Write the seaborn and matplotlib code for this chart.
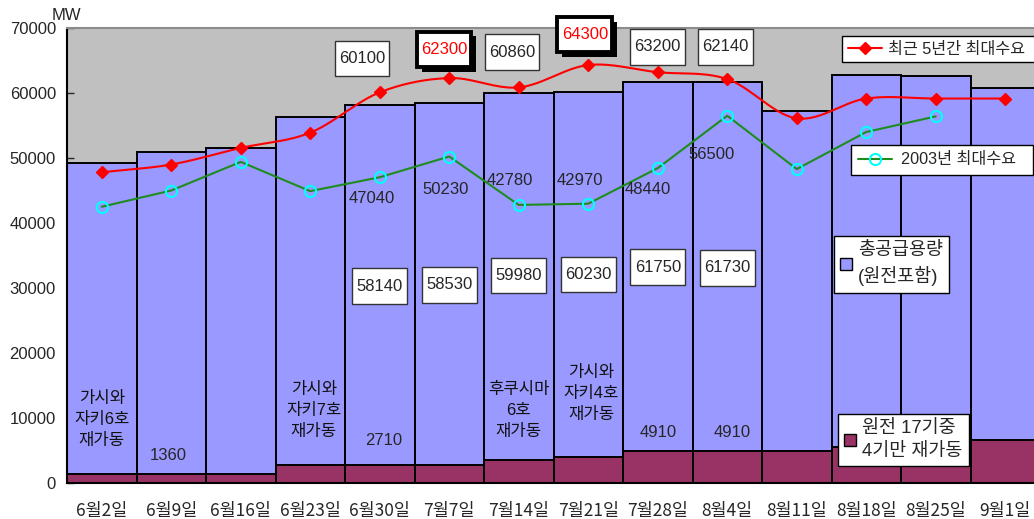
import numpy as np
import pandas as pd
import matplotlib
matplotlib.use("Agg")
import matplotlib.pyplot as plt
import matplotlib.patheffects as pe
from matplotlib.path import Path
from matplotlib.lines import Line2D
from matplotlib.patches import Patch
import seaborn as sns

# ---------------- data ----------------
categories = ["6월2일", "6월9일", "6월16일", "6월23일", "6월30일", "7월7일", "7월14일",
              "7월21일", "7월28일", "8월4일", "8월11일", "8월18일", "8월25일", "9월1일"]
supply = [49230, 51000, 51550, 56300, 58140, 58530, 59980, 60230, 61750, 61730,
          57230, 62770, 62600, 60770]
nuclear = [1360, 1360, 1360, 2710, 2710, 2710, 3550, 4040, 4910, 4910, 4910, 5490, 5490, 6570]
max5yr = [47800, 49000, 51550, 53900, 60100, 62300, 60860, 64300, 63200, 62140,
          56100, 59150, 59150, 59150]
demand2003 = [42500, 45000, 49400, 44900, 47040, 50230, 42780, 42970, 48440, 56500,
              48300, 54000, 56400, np.nan]

max5_labels = {4: "60100", 5: "62300", 6: "60860", 7: "64300", 8: "63200", 9: "62140"}
max5_highlight = [5, 7]
d2003_labels = {4: "47040", 5: "50230", 6: "42780", 7: "42970", 8: "48440", 9: "56500"}
supply_labels = {4: "58140", 5: "58530", 6: "59980", 7: "60230", 8: "61750", 9: "61730"}
nuclear_labels = {1: "1360", 4: "2710", 8: "4910", 9: "4910"}
restart_notes = {0: "가시와\n자키6호\n재가동", 3: "가시와\n자키7호\n재가동",
                 6: "후쿠시마\n6호\n재가동", 7: "가시와\n자키4호\n재가동"}
yticks = [0, 10000, 20000, 30000, 40000, 50000, 60000, 70000]

# ---------------- style ----------------
sns.set_style("white")
plt.rcParams["font.family"] = ["Liberation Sans", "Noto Sans CJK KR", "DejaVu Sans"]

fig = plt.figure(figsize=(10.34, 5.19), dpi=100)
ax = fig.add_axes([67 / 1034, 36 / 519, 973 / 1034, 455 / 519])
ax.set_facecolor("#C0C0C0")

df = pd.DataFrame({"cat": categories, "supply": supply, "nuclear": nuclear})
sns.barplot(data=df, x="cat", y="supply", order=categories, color="#9999FF",
            saturation=1, width=1.0, edgecolor="black", linewidth=1.4, ax=ax, zorder=1)
sns.barplot(data=df, x="cat", y="nuclear", order=categories, color="#993366",
            saturation=1, width=1.0, edgecolor="black", linewidth=1.4, ax=ax, zorder=1)

x = np.arange(len(categories))

# smoothed red line (Catmull-Rom through the data points)
def catmull_rom(xs, ys, n=30):
    xs = np.asarray(xs, float); ys = np.asarray(ys, float)
    px = np.concatenate([[2 * xs[0] - xs[1]], xs, [2 * xs[-1] - xs[-2]]])
    py = np.concatenate([[2 * ys[0] - ys[1]], ys, [2 * ys[-1] - ys[-2]]])
    outx, outy = [], []
    for i in range(1, len(px) - 2):
        t = np.linspace(0, 1, n, endpoint=False)
        for arr, out in ((px, outx), (py, outy)):
            p0, p1, p2, p3 = arr[i - 1], arr[i], arr[i + 1], arr[i + 2]
            out.extend(0.5 * ((2 * p1) + (-p0 + p2) * t + (2 * p0 - 5 * p1 + 4 * p2 - p3) * t ** 2
                              + (-p0 + 3 * p1 - 3 * p2 + p3) * t ** 3))
    outx.append(xs[-1]); outy.append(ys[-1])
    return np.array(outx), np.array(outy)

sx, sy = catmull_rom(x, max5yr)
ax.plot(sx, sy, color="#FF0000", lw=1.5, zorder=4)
ax.plot(x, max5yr, ls="none", marker="D", ms=6.5, color="#FF0000", zorder=5)

ax.plot(x, demand2003, color="#1E8C1E", lw=1.5, marker="o", ms=8, mfc="none",
        mec="#00FFFF", mew=1.5, zorder=4)


# tall label box (narrow side padding, taller vertical padding)
def tallbox(x0, y0, width, height, mutation_size):
    padx, pady = 0.25 * mutation_size, 0.62 * mutation_size
    x0, y0 = x0 - padx, y0 - pady
    x1, y1 = x0 + width + 2 * padx, y0 + height + 2 * pady
    return Path([(x0, y0), (x1, y0), (x1, y1), (x0, y1), (x0, y0)], closed=True)


NUM_FS = 12
box = dict(boxstyle=tallbox, fc="white", ec="#333333", lw=1)

# ---------------- labels ----------------
m_pos = {4: (-0.255, 65300), 5: (-0.075, 66700), 6: (-0.1, 66300), 7: (-0.05, 69000),
         8: (0.0, 67100), 9: (-0.03, 67100)}
for i, t in max5_labels.items():
    dx, yy = m_pos[i]
    if i in max5_highlight:
        txt = ax.text(i + dx, yy, t, ha="center", va="center", fontsize=NUM_FS,
                      color="#FF0000", zorder=7,
                      bbox=dict(boxstyle=tallbox, fc="white", ec="black", lw=2.8))
        txt.get_bbox_patch().set_path_effects(
            [pe.SimplePatchShadow(offset=(3.5, -3.5), shadow_rgbFace="black", alpha=1),
             pe.Normal()])
    else:
        ax.text(i + dx, yy, t, ha="center", va="center", fontsize=NUM_FS, zorder=7, bbox=box)

d_pos = {4: (-0.12, 43700), 5: (-0.06, 45100), 6: (-0.13, 46500), 7: (-0.12, 46500),
         8: (-0.14, 45100), 9: (-0.22, 50600)}
for i, t in d2003_labels.items():
    dx, yy = d_pos[i]
    ax.text(i + dx, yy, t, ha="center", va="center", fontsize=NUM_FS, zorder=7)

s_pos = {4: 30300, 5: 30500, 6: 31900, 7: 32100, 8: 33200, 9: 33100}
for i, t in supply_labels.items():
    ax.text(i, s_pos[i], t, ha="center", va="center", fontsize=NUM_FS, zorder=7, bbox=box)

n_pos = {1: (-0.05, 4300), 4: (0.06, 6500), 8: (0, 7800), 9: (0.07, 7800)}
for i, t in nuclear_labels.items():
    dx, yy = n_pos[i]
    ax.text(i + dx, yy, t, ha="center", va="center", fontsize=NUM_FS, zorder=7)

r_pos = {0: (0.0, 9700), 3: (0.05, 11200), 6: (0.0, 11200), 7: (0.04, 13800)}
for i, t in restart_notes.items():
    dx, yy = r_pos[i]
    ax.text(i + dx, yy, t, ha="center", va="center", fontsize=12, zorder=7,
            linespacing=1.5, color="#111111")

# ---------------- axes ----------------
ax.set_xlim(-0.5, 13.5)
ax.set_ylim(0, 70000)
ax.set_yticks(yticks)
ax.set_yticklabels([str(v) for v in yticks], fontsize=NUM_FS)
ax.tick_params(axis="y", direction="in", length=5, width=1, pad=8, left=True)
ax.tick_params(axis="x", length=0, pad=14, labelsize=12.5)
ax.set_xlabel("")
ax.set_ylabel("")
for lab in ax.get_xticklabels():
    lab.set_fontfamily(["Noto Sans CJK KR"])
for sp in ["left", "bottom"]:
    ax.spines[sp].set_color("black")
    ax.spines[sp].set_linewidth(1.5)
ax.spines["top"].set_color("#8C8C8C")
ax.spines["top"].set_linewidth(1.5)
ax.spines["right"].set_visible(False)
fig.text(66 / 1034, 1 - 15 / 519, "MW", ha="center", va="center", fontsize=12)

# ---------------- legends ----------------
def axfrac(px, py):
    return ((px - 67) / 973, (483 - py) / 455)

base = dict(frameon=True, fancybox=False, framealpha=1, edgecolor="black",
            borderaxespad=0, loc="upper left")

l1 = ax.legend(handles=[Line2D([], [], color="#FF0000", lw=1.5, marker="D", ms=6.5)],
               labels=["최근 5년간 최대수요  "], bbox_to_anchor=axfrac(842, 36),
               fontsize=11.7, handlelength=2.1, handletextpad=0.35, borderpad=0.35, **base)
ax.add_artist(l1)
l2 = ax.legend(handles=[Line2D([], [], color="#1E8C1E", lw=1.5, marker="o", ms=8,
                               mfc="none", mec="#00FFFF", mew=1.5)],
               labels=["2003년 최대수요  "], bbox_to_anchor=axfrac(851, 145),
               fontsize=11.7, handlelength=2.1, handletextpad=0.55, borderpad=0.45, **base)
ax.add_artist(l2)
l3 = ax.legend(handles=[Patch(fc="#9999FF", ec="black", lw=1)],
               labels=["총공급용량\n(원전포함)"], bbox_to_anchor=axfrac(834, 236),
               fontsize=13.3, handlelength=0.65, handleheight=0.65, handletextpad=0.3,
               borderpad=0.35, **base)
ax.add_artist(l3)
l4 = ax.legend(handles=[Patch(fc="#993366", ec="black", lw=1)],
               labels=["원전 17기중\n4기만 재가동"], bbox_to_anchor=axfrac(838, 414),
               fontsize=13.3, handlelength=0.65, handleheight=0.65, handletextpad=0.3,
               borderpad=0.35, **base)
for lg in (l3, l4):
    for t in lg.get_texts():
        t.set_linespacing(1.4)
for lg in (l1, l2, l3, l4):
    lg.set_zorder(10)
    lg.get_frame().set_linewidth(1)

fig.savefig("out.png", dpi=100)
